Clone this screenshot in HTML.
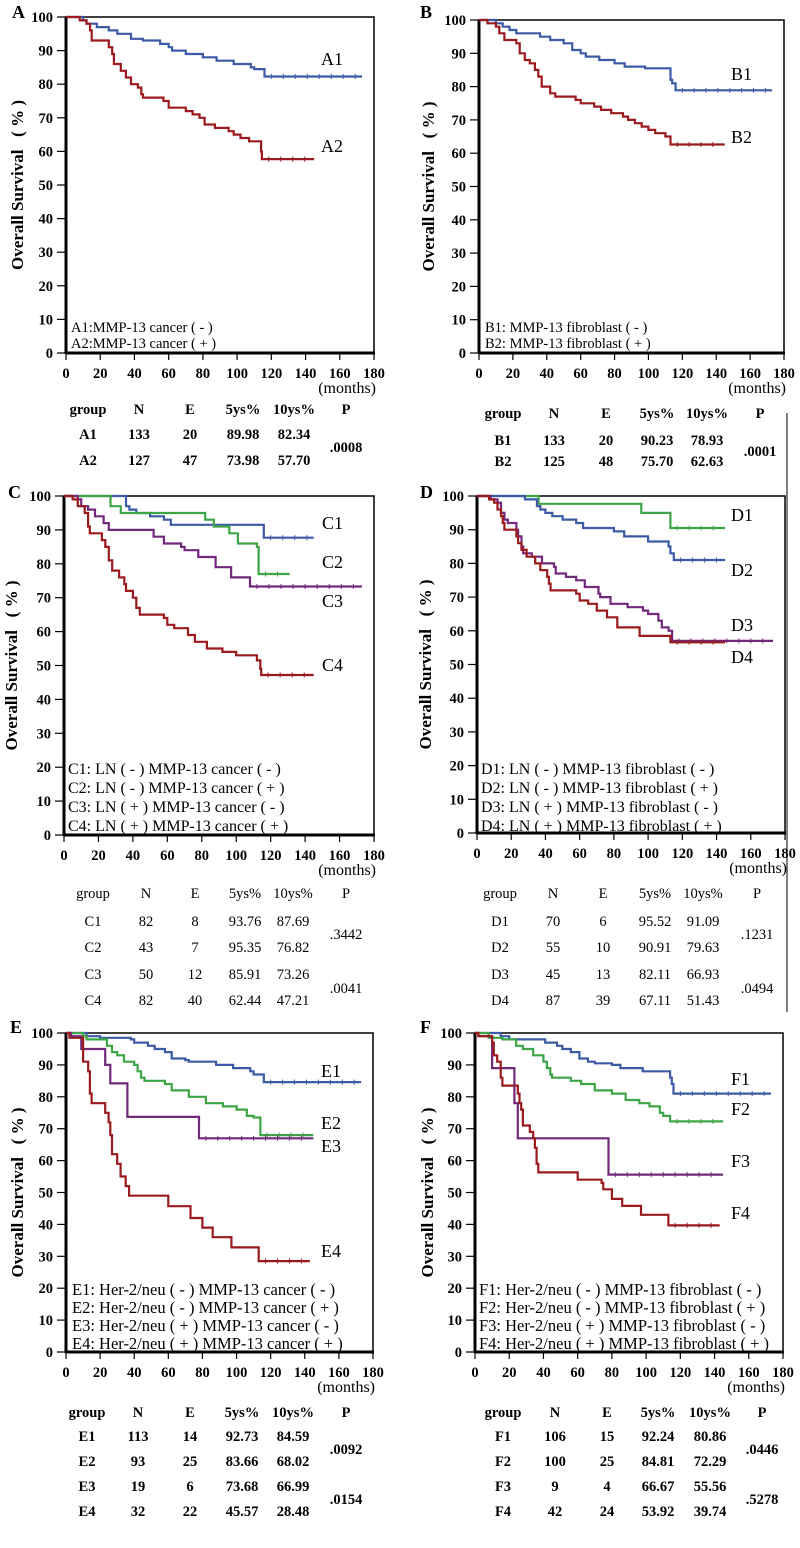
<!DOCTYPE html>
<html><head><meta charset="utf-8"><title>Overall survival by MMP-13 status</title>
<style>
html,body{margin:0;padding:0;background:#fff;}
svg{display:block;}
text{font-family:"Liberation Serif",serif;fill:#000;}
.tick{font-weight:bold;font-size:14.5px;}
.tbl{font-size:14.5px;font-weight:bold;}
.tblc{font-size:14.5px;}
</style></head>
<body>
<svg id="fig" width="800" height="1548" viewBox="0 0 800 1548" xmlns="http://www.w3.org/2000/svg"></svg>
<script>
// ---- data (months of step, survival % after step) ----
const yTicks=[0,10,20,30,40,50,60,70,80,90,100];
const xTicks=[0,20,40,60,80,100,120,140,160,180];
const a1Months=[10,12,18,25,30,38,45,55,60,62,70,80,88,98,108,110,116];
const a1Surv=[99,98,97,96,95,93.5,93,92,91,90,89,88,87,86,85,84.5,82.3];
const a2Months=[8,12,14,15,25,27,28,32,35,38,42,44,45,57,60,70,74,78,81,87,95,98,102,107,114,114.5];
const a2Surv=[99,98,96,93,91,89,86,84,82,80,79,77,76,75,73,72,71,70,68,67,66,65,64,63,60,57.7];
const b1Months=[10,14,18,22,36,42,50,55,60,63,71,80,86,98,113,114,116];
const b1Surv=[99,98,97,96,95,94,93,91,90,89,88,87,86,85.5,82,81,78.9];
const b2Months=[5,10,12,15,22,24,27,30,33,35,37,42,45,57,60,68,72,78,85,88,92,96,100,104,110,113];
const b2Surv=[99,98,96,94,93,90,88,87,85,83,80,78,77,76,75,74,73,72,71,70,69,68,67,66,65,62.6];
const c1Months=[36,38,42,50,58,62,116];
const c1Surv=[97,96,95,94,93,91.5,87.7];
const c2Months=[27,33,82,87,96,101,112,113];
const c2Surv=[97,95,93,91,89,86,85,77];
const c3Months=[8,10,14,18,23,26,52,58,68,70,78,88,97,108];
const c3Surv=[99,97,96,94,92,90,88,86,85,84,82,79,76,73.3];
const c4Months=[5,8,12,14,15,22,24,26,28,32,35,36,40,42,44,58,60,64,72,76,83,92,100,112,114,114.5];
const c4Surv=[99,97,95,91,89,87,85,81,78,76,74,72,70,67,65,64,62,61,59,57,55,54,53,51.5,49,47.2];
const d1Months=[36,96,113];
const d1Surv=[97.7,95,90.5];
const d2Months=[28,35,37,40,44,50,58,62,80,86,100,112,113,115];
const d2Surv=[99,97,96,95,94,93,92,90.5,89.5,88,86.5,85,83,81];
const d3Months=[8,12,14,16,18,23,24,26,27,32,38,45,46,52,58,63,71,72,78,88,97,100,106,108,112,114];
const d3Surv=[99,98,95,93,92,90,88,85,83,82,80,79,77,76,75,73,71,70,68,67,66,65,63,61,60,57];
const d4Months=[7,10,12,14,15,16,23,24,26,29,34,37,41,42,43,58,60,65,70,76,82,95,113];
const d4Surv=[99,98,96,94,92,90,88,86,84,82,80,78,76,74,72,71,69,68,66,64,61,58.5,56.6];
const e1Months=[12,20,38,40,48,52,58,62,70,72,88,98,108,110,116];
const e1Surv=[99,98.5,98,97,96,95,94,92,91.5,91,90,89,88,87,84.6];
const e2Months=[10,12,24,27,30,34,40,42,44,46,58,62,72,82,92,100,106,110,114];
const e2Surv=[99,98,96,94,93,91,90,88,86,85,84,82,80,78,77,76,74,73.5,68];
const e3Months=[3,9,23,26,36,78];
const e3Surv=[99,95,90,84.2,73.7,67];
const e4Months=[2,10,13,14,15,23,25,26,27,30,32,35,37,60,73,80,86,97,113];
const e4Surv=[98.5,91,88,81,78,75,72,68,62,59,55,52,49,45.7,42,39,36,32.8,28.5];
const f1Months=[15,20,41,48,51,56,61,66,70,80,85,98,114,115,116];
const f1Surv=[99,98,97,96,95,94,92,91,90.5,90,89,88,86,84,81];
const f2Months=[8,16,24,28,34,40,42,44,45,56,62,70,80,88,96,102,108,110,114];
const f2Surv=[98.5,98,96,95,93,91,89,87,86,85,84,82,81,79,78,77,75,74,72.3];
const f3Months=[2,10,23,25,78];
const f3Surv=[99,89,78,67,55.6];
const f4Months=[2,10,11,13,15,16,25,26,27,28,32,34,35,36,37,60,74,75,80,86,97,113];
const f4Surv=[99,97,93,91,86,83.5,81,78,76,71,69,67,64,59,56.3,54,53,51,48,45.8,43,39.7];
const tableHead=['group','N','E','5ys%','10ys%','P'];
const aRows=[['A1','133','20','89.98','82.34'],['A2','127','47','73.98','57.70']];
const aP=['.0008'];
const bRows=[['B1','133','20','90.23','78.93'],['B2','125','48','75.70','62.63']];
const bP=['.0001'];
const cRows=[['C1','82','8','93.76','87.69'],['C2','43','7','95.35','76.82'],['C3','50','12','85.91','73.26'],['C4','82','40','62.44','47.21']];
const cP=['.3442','.0041'];
const dRows=[['D1','70','6','95.52','91.09'],['D2','55','10','90.91','79.63'],['D3','45','13','82.11','66.93'],['D4','87','39','67.11','51.43']];
const dP=['.1231','.0494'];
const eRows=[['E1','113','14','92.73','84.59'],['E2','93','25','83.66','68.02'],['E3','19','6','73.68','66.99'],['E4','32','22','45.57','28.48']];
const eP=['.0092','.0154'];
const fRows=[['F1','106','15','92.24','80.86'],['F2','100','25','84.81','72.29'],['F3','9','4','66.67','55.56'],['F4','42','24','53.92','39.74']];
const fP=['.0446','.5278'];

const BLUE='#3c5aa6',RED='#9a1a1e',GREEN='#3da545',PURPLE='#72297c';
const NS='http://www.w3.org/2000/svg';
const svg=document.getElementById('fig');
function mk(tag,attrs,parent){const e=document.createElementNS(NS,tag);for(const k in attrs)e.setAttribute(k,attrs[k]);(parent||svg).appendChild(e);return e;}
function txt(s,attrs,parent){const e=mk('text',attrs,parent);e.textContent=s;return e;}

const panels=[
 {id:'a',L:'A',x0:66,x1:374,yT:17,yB:353,lx:12,ly:18,tx:23,
  series:[['A1',a1Months,a1Surv,173,BLUE],['A2',a2Months,a2Surv,145,RED]],
  clab:[['A1',321,65],['A2',321,152]],
  leg:{x:71,ys:[332,348],fs:14.5,lines:['A1:MMP-13 cancer ( - )','A2:MMP-13 cancer ( + )']},
  tab:{cols:[88,139,190,243,294,346],hy:414,rows:aRows,ry:[439,465],p:aP,py:[452],cls:'tbl'}},
 {id:'b',L:'B',x0:479,x1:784,yT:20,yB:353,lx:420,ly:18,tx:434,
  series:[['B1',b1Months,b1Surv,173,BLUE],['B2',b2Months,b2Surv,145,RED]],
  clab:[['B1',731,80],['B2',731,143]],
  leg:{x:485,ys:[332,348],fs:14.5,lines:['B1: MMP-13  fibroblast ( - )','B2: MMP-13 fibroblast ( + )']},
  tab:{cols:[503,554,606,657,707,760],hy:418,rows:bRows,ry:[445,466],p:bP,py:[456],cls:'tbl'}},
 {id:'c',L:'C',x0:64,x1:374,yT:496,yB:835,lx:8,ly:498,tx:17,
  series:[['C1',c1Months,c1Surv,145,BLUE],['C2',c2Months,c2Surv,131,GREEN],['C3',c3Months,c3Surv,173,PURPLE],['C4',c4Months,c4Surv,145,RED]],
  clab:[['C1',322,529],['C2',322,568],['C3',322,607],['C4',322,671]],
  leg:{x:68,ys:[774,793,812,831],fs:16,lines:['C1: LN ( - ) MMP-13 cancer ( - )','C2: LN ( - ) MMP-13 cancer ( + )','C3: LN ( + ) MMP-13 cancer ( - )','C4: LN ( + ) MMP-13 cancer ( + )']},
  tab:{cols:[93,146,195,245,293,346],hy:898,rows:cRows,ry:[926,952,979,1005],p:cP,py:[939,993],cls:'tblc'}},
 {id:'d',L:'D',x0:477,x1:785,yT:496,yB:833,lx:420,ly:498,tx:431,
  series:[['D1',d1Months,d1Surv,145,GREEN],['D2',d2Months,d2Surv,145,BLUE],['D3',d3Months,d3Surv,173,PURPLE],['D4',d4Months,d4Surv,145,RED]],
  clab:[['D1',731,521],['D2',731,576],['D3',731,631],['D4',731,663]],
  leg:{x:481,ys:[774,793,812,831],fs:16,lines:['D1: LN ( - ) MMP-13   fibroblast ( - )','D2: LN ( - ) MMP-13   fibroblast ( + )','D3: LN ( + ) MMP-13  fibroblast ( - )','D4: LN ( + ) MMP-13  fibroblast ( + )']},
  tab:{cols:[500,553,603,655,703,757],hy:898,rows:dRows,ry:[926,952,979,1005],p:dP,py:[939,993],cls:'tblc'}},
 {id:'e',L:'E',x0:66,x1:373,yT:1033,yB:1352,lx:10,ly:1033,tx:23,
  series:[['E1',e1Months,e1Surv,173,BLUE],['E2',e2Months,e2Surv,145,GREEN],['E3',e3Months,e3Surv,145,PURPLE],['E4',e4Months,e4Surv,143,RED]],
  clab:[['E1',321,1077],['E2',321,1129],['E3',321,1152],['E4',321,1257]],
  leg:{x:72,ys:[1295,1313,1331,1349],fs:16.5,lines:['E1: Her-2/neu ( - ) MMP-13 cancer ( - )','E2: Her-2/neu ( - ) MMP-13 cancer ( + )','E3: Her-2/neu ( + ) MMP-13 cancer ( - )','E4: Her-2/neu ( + ) MMP-13 cancer ( + )']},
  tab:{cols:[87,138,190,242,293,346],hy:1417,rows:eRows,ry:[1441,1466,1491,1516],p:eP,py:[1454,1504],cls:'tbl'}},
 {id:'f',L:'F',x0:475,x1:783,yT:1033,yB:1352,lx:420,ly:1033,tx:433,
  series:[['F1',f1Months,f1Surv,173,BLUE],['F2',f2Months,f2Surv,145,GREEN],['F3',f3Months,f3Surv,145,PURPLE],['F4',f4Months,f4Surv,143,RED]],
  clab:[['F1',731,1085],['F2',731,1115],['F3',731,1167],['F4',731,1219]],
  leg:{x:479,ys:[1295,1313,1331,1349],fs:16.5,lines:['F1: Her-2/neu ( - ) MMP-13   fibroblast ( - )','F2: Her-2/neu ( - ) MMP-13   fibroblast ( + )','F3: Her-2/neu ( + ) MMP-13  fibroblast ( - )','F4: Her-2/neu ( + ) MMP-13  fibroblast ( + )']},
  tab:{cols:[503,555,607,658,710,762],hy:1417,rows:fRows,ry:[1441,1466,1491,1516],p:fP,py:[1454,1504],cls:'tbl'}}
];

panels.forEach(p=>{
  const g=mk('g',{});
  
  
  const X=m=>p.x0+(m/180)*(p.x1-p.x0);
  const Y=v=>p.yB-(v/100)*(p.yB-p.yT);
  const fr=mk('rect',{x:p.x0,y:p.yT,width:p.x1-p.x0,height:p.yB-p.yT,fill:'none',stroke:'#000','stroke-width':1.5},g);
  
  
  const ya=mk('line',{x1:p.x0,y1:p.yT,x2:p.x0,y2:p.yB+1,stroke:'#000','stroke-width':3},g);
  
  
  const xa=mk('line',{x1:p.x0,y1:p.yB,x2:p.x1+1,y2:p.yB,stroke:'#000','stroke-width':3},g);
  
  
  yTicks.forEach(v=>{
    mk('line',{x1:p.x0-9,y1:Y(v),x2:p.x0,y2:Y(v),stroke:'#000','stroke-width':1.2},g);
    const t=txt(String(v),{x:p.x0-13,y:Y(v)+5,'text-anchor':'end',class:'tick'},g);
    
    
  });
  xTicks.forEach(v=>{
    mk('line',{x1:X(v),y1:p.yB,x2:X(v),y2:p.yB+7,stroke:'#000','stroke-width':1.2},g);
    const t=txt(String(v),{x:X(v),y:p.yB+25,'text-anchor':'middle',class:'tick'},g);
    
    
  });
  const mo=txt('(months)',{x:p.x1+2,y:p.yB+40,'text-anchor':'end','font-size':16},g);
  
  
  const cy=(p.yT+p.yB)/2;
  const yt=txt('Overall Survival\u00a0\u00a0\u00a0( % )',{x:p.tx,y:cy,transform:'rotate(-90 '+p.tx+' '+cy+')','text-anchor':'middle','font-size':17,'font-weight':'bold'},g);
  
  
  const pl=txt(p.L,{x:p.lx,y:p.ly,'font-size':18,'font-weight':'bold'},g);
  
  
  p.series.forEach(s=>{
    const [name,ms,sv,end,col]=s;
    let d='M'+X(0)+' '+Y(100);
    for(let i=0;i<ms.length;i++){d+=' H'+X(ms[i]).toFixed(1)+' V'+Y(sv[i]).toFixed(1);}
    d+=' H'+X(end).toFixed(1);
    const path=mk('path',{d:d,fill:'none',stroke:col,'stroke-width':2.2},g);
    
    
    const last=sv[sv.length-1], lm=ms[ms.length-1];
    for(let m=lm+4;m<end;m+=7){
      mk('line',{x1:X(m),y1:Y(last)-2.5,x2:X(m),y2:Y(last)+2.5,stroke:col,'stroke-width':1},g);
    }
  });
  p.clab.forEach(c=>{
    const t=txt(c[0],{x:c[1],y:c[2],'font-size':18},g);
    
    
  });
  p.leg.lines.forEach((l,i)=>{
    const t=txt(l,{x:p.leg.x,y:p.leg.ys[i],'font-size':p.leg.fs,'xml:space':'preserve'},g);
    
    
  });
  const tb=p.tab;
  tableHead.forEach((h,i)=>{
    const t=txt(h,{x:tb.cols[i],y:tb.hy,'text-anchor':'middle',class:tb.cls},g);
    
    
  });
  tb.rows.forEach((r,ri)=>{
    r.forEach((c,ci)=>{
      const t=txt(c,{x:tb.cols[ci],y:tb.ry[ri],'text-anchor':'middle',class:tb.cls},g);
      
      
    });
  });
  tb.p.forEach((v,i)=>{
    const t=txt(v,{x:tb.cols[5],y:tb.py[i],'text-anchor':'middle',class:tb.cls},g);
    
    
  });
});
const sep=mk('line',{x1:787,y1:413,x2:787,y2:1012,stroke:'#000','stroke-width':1});


</script>
</body></html>
